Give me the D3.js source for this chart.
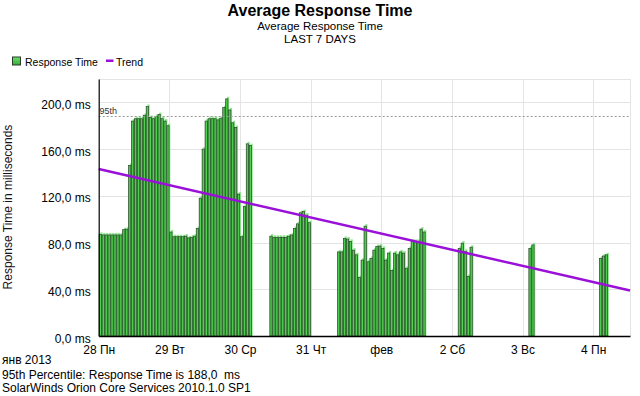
<!DOCTYPE html>
<html>
<head>
<meta charset="utf-8">
<script src="https://cdn.jsdelivr.net/npm/d3@7"></script>
<style>
  html, body { margin: 0; padding: 0; background: #fff; }
  svg { display: block; font-family: "Liberation Sans", Arial, sans-serif; }
  text { white-space: pre; }
</style>
</head>
<body>
<svg id="chart" width="640" height="396"></svg>
<script>
// ---------------- data ----------------
const chartTitle = "Average Response Time";
const chartSubtitle = "Average Response Time";
const chartPeriod = "LAST 7 DAYS";
const yAxisTitle = "Response Time in milliseconds";
const footerLines = ["янв 2013", "95th Percentile: Response Time is 188,0  ms", "SolarWinds Orion Core Services 2010.1.0 SP1"];

// x tick labels, one per day (hours since 28 Jan 00:00)
const dayLabels = ["28 Пн", "29 Вт", "30 Ср", "31 Чт", "фев", "2 Сб", "3 Вс", "4 Пн"];
const dayHours  = [0, 24, 48, 72, 96, 120, 144, 168];
const xDomainHours = [0, 180.5];

// y axis ticks (ms)
const yTicks = [0, 40, 80, 120, 160, 200];
const yMax = 220;

// hourly samples: hour offset since 28 Jan 00:00 and average response time (ms)
const sampleHours = [
  0,1,2,3,4,5,6,7,8,9,10,11,12,13,14,15,16,17,18,19,20,21,22,23,
  24,25,26,27,28,29,30,31,32,33,34,35,36,37,38,39,40,41,42,43,44,45,46,47,
  48,49,50,51,
  58,59,60,61,62,63,64,65,66,67,68,69,70,71,
  81,82,83,84,85,86,87,88,89,90,91,92,93,94,95,96,97,98,99,100,101,102,103,104,105,106,107,108,109,110,
  122,123,124,125,126,
  146,147,
  170,171,172
];
const responseMs = [
  87,86.5,86.5,86.5,86.5,86.5,86.5,86.5,91,91.5,146,184,186,186,186,189,196.5,187,186,188,189.5,186,184,180,
  89,85,85,85,85,85.5,84,84.5,85.5,92,118,160,184,186,186,186,185,186.5,195.5,203,193.5,182.5,178.5,121.5,
  85,111,164.5,163,
  85.5,84.5,84.5,84.5,84.5,84.5,85.5,86.5,92,96,105.5,106.5,103.5,97,
  72,72,83.5,83,81,73.5,69.5,50,65,94,63.5,66.5,73.5,76.5,77,75,65,71,56,71,69.5,72,71,58,75,81,81,81,91.5,89,
  75,79.5,72.5,51,76,
  75,78,
  66.5,68.5,69.5
];

// trend line (ms) at the start and end of the x domain
const trendMs = [143, 39];
const percentile95 = 188;

// ---------------- drawing ----------------
const svg = d3.select("#chart");
const plotLeft = 98.7, plotRight = 630, plotTop = 79, plotBottom = 336;

const x = d3.scaleLinear().domain(xDomainHours).range([plotLeft, plotRight]);
const y = d3.scaleLinear().domain([0, yMax]).range([plotBottom, plotTop]);

const defs = svg.append("defs");
const g1 = defs.append("linearGradient").attr("id", "barGrad").attr("x1", 0).attr("x2", 1).attr("y1", 0).attr("y2", 0);
g1.append("stop").attr("offset", "0%").attr("stop-color", "#3bb53b");
g1.append("stop").attr("offset", "60%").attr("stop-color", "#55d255");
g1.append("stop").attr("offset", "100%").attr("stop-color", "#46c046");
const g2 = defs.append("linearGradient").attr("id", "legGrad").attr("x1", 0).attr("x2", 0).attr("y1", 0).attr("y2", 1);
g2.append("stop").attr("offset", "0%").attr("stop-color", "#6ee06e");
g2.append("stop").attr("offset", "100%").attr("stop-color", "#34aa34");

// titles
svg.append("text").attr("x", 320).attr("y", 15.5).attr("text-anchor", "middle")
  .attr("font-size", 16).attr("font-weight", "bold").attr("fill", "#000").text(chartTitle);
svg.append("text").attr("x", 320).attr("y", 29.5).attr("text-anchor", "middle")
  .attr("font-size", 11.5).attr("fill", "#000").text(chartSubtitle);
svg.append("text").attr("x", 320).attr("y", 42.5).attr("text-anchor", "middle")
  .attr("font-size", 11.5).attr("fill", "#000").text(chartPeriod);

// legend
svg.append("rect").attr("x", 12.5).attr("y", 57).attr("width", 8).attr("height", 8)
  .attr("fill", "url(#legGrad)").attr("stroke", "#2b3b2b").attr("stroke-width", 1);
svg.append("text").attr("x", 25).attr("y", 65.5).attr("font-size", 10.5).attr("fill", "#000").text("Response Time");
svg.append("rect").attr("x", 106).attr("y", 59.5).attr("width", 7.5).attr("height", 2.5).attr("fill", "#9a10d8");
svg.append("text").attr("x", 116).attr("y", 65.5).attr("font-size", 10.5).attr("fill", "#000").text("Trend");

// grid
const grid = svg.append("g");
grid.selectAll("line.h").data(yTicks.filter(d => d > 0).concat([yMax])).join("line")
  .attr("x1", plotLeft).attr("x2", plotRight)
  .attr("y1", d => Math.round(y(d)) + 0.5).attr("y2", d => Math.round(y(d)) + 0.5)
  .attr("stroke", "#e4e4e4").attr("stroke-width", 1);
grid.selectAll("line.v").data(dayHours.slice(1).concat([xDomainHours[1]])).join("line")
  .attr("x1", d => Math.round(x(d)) + 0.5).attr("x2", d => Math.round(x(d)) + 0.5)
  .attr("y1", plotTop).attr("y2", plotBottom)
  .attr("stroke", "#e4e4e4").attr("stroke-width", 1);

// bars: light "glow" copies behind, then the bars themselves
const pitch = x(1) - x(0);
const bw = pitch * 0.78;
const samples = sampleHours.map((h, i) => ({ h, v: responseMs[i] }));
svg.append("g").selectAll("rect").data(samples).join("rect")
  .attr("x", d => x(d.h) + 1.6).attr("width", bw)
  .attr("y", d => y(d.v) - 2).attr("height", d => plotBottom - y(d.v) + 2)
  .attr("fill", "#8ee88e");
svg.append("g").selectAll("rect").data(samples).join("rect")
  .attr("x", d => x(d.h) + 0.4).attr("width", bw)
  .attr("y", d => y(d.v)).attr("height", d => plotBottom - y(d.v))
  .attr("fill", "url(#barGrad)").attr("stroke", "#2a472a").attr("stroke-width", 0.7);

// 95th percentile line
svg.append("line").attr("x1", plotLeft).attr("x2", plotRight)
  .attr("y1", Math.round(y(percentile95)) + 0.5).attr("y2", Math.round(y(percentile95)) + 0.5)
  .attr("stroke", "#9a9a9a").attr("stroke-width", 1).attr("stroke-dasharray", "2,2");
svg.append("text").attr("x", 99.5).attr("y", y(percentile95) - 2.5)
  .attr("font-size", 9).attr("fill", "#333").text("95th");

// trend line
svg.append("path")
  .datum(xDomainHours.map((h, i) => [h, trendMs[i]]))
  .attr("d", d3.line().x(d => x(d[0])).y(d => y(d[1])))
  .attr("fill", "none").attr("stroke", "#9a10d8").attr("stroke-width", 2.5);

// axes
const yAxis = svg.append("g").attr("transform", `translate(${plotLeft},0)`)
  .call(d3.axisLeft(y).tickValues(yTicks)
    .tickFormat(d => d3.format(".1f")(d).replace(".", ",") + " ms")
    .tickSize(0).tickPadding(8));
yAxis.select(".domain").attr("stroke", "#000").attr("stroke-width", 1.2);
yAxis.selectAll("text").attr("font-size", 12).attr("fill", "#000")
  .attr("font-family", "Liberation Sans, Arial, sans-serif").attr("dy", "0.5em");

const xAxis = svg.append("g").attr("transform", `translate(0,${plotBottom})`)
  .call(d3.axisBottom(x).tickValues(dayHours)
    .tickFormat((d, i) => dayLabels[i]).tickSize(0).tickPadding(9));
xAxis.select(".domain").attr("stroke", "#000").attr("stroke-width", 1.5);
xAxis.selectAll("text").attr("font-size", 12).attr("fill", "#000")
  .attr("font-family", "Liberation Sans, Arial, sans-serif");

// y axis title
svg.append("text").attr("transform", "translate(12,207) rotate(-90)")
  .attr("text-anchor", "middle").attr("font-size", 12).attr("fill", "#1a101a").text(yAxisTitle);

// footer
svg.selectAll("text.footer").data(footerLines).join("text")
  .attr("class", "footer").attr("x", 2).attr("y", (d, i) => [364, 378.5, 391.5][i])
  .attr("font-size", 12).attr("fill", "#000").text(d => d);
</script>
</body>
</html>
